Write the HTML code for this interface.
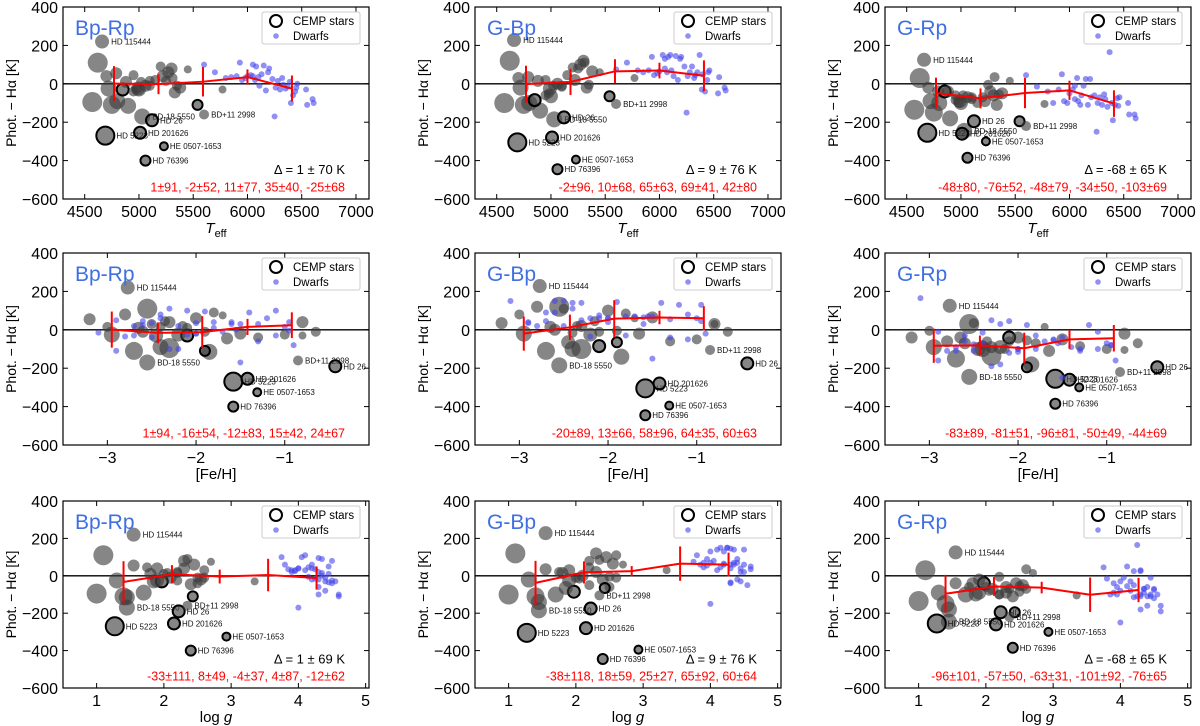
<!DOCTYPE html>
<html><head><meta charset="utf-8">
<style>
html,body{margin:0;padding:0;background:#fff;}
svg{display:block;font-family:"Liberation Sans",sans-serif;}
</style></head>
<body>
<svg id="fig" width="1200" height="726" viewBox="0 0 1200 726"></svg>
<script>
// ---- shared star data (same stars in every panel) ----
const teff = [4660,4620,4570,4720,4790,4750,4800,4900,4850,4880,4950,4990,5000,5030,5020,5060,5100,5150,5200,5220,5270,5300,5330,5350,5380,5310,5450,5250,5770,4950,4690,5010,5120,5230,5060,5540,5600,4980,4700,5100];
const logg = [1.55,1.1,1.0,1.3,1.55,1.4,1.7,1.45,1.97,1.8,1.75,1.9,1.85,1.45,2.0,2.1,2.05,2.2,2.35,2.3,2.45,2.3,2.4,2.5,2.55,2.6,2.7,2.2,3.35,2.5,1.27,2.15,2.22,2.93,2.4,2.43,2.35,2.2,1.9,2.6];
const feh  = [-2.77,-2.55,-2.3,-2.95,-3.2,-2.7,-2.4,-1.85,-2.1,-2.65,-2.35,-2.2,-2.45,-2.55,-2.1,-2.6,-2.4,-2.15,-1.8,-2.3,-2.0,-2.8,-1.65,-1.9,-1.5,-2.5,-1.7,-3.0,-0.8,-1.3,-1.58,-1.42,-0.43,-1.31,-1.58,-1.9,-0.85,-1.0,-0.8,-0.65];
const gsize = [7,10,10,8,6,9,8,8,6,6,5,7,7,8,5,6,5,5,5,6,6,6,6,5,6,5,4,5,4,5,9,6,6,4,5,5,5,5,6,5];
const dBpRp = [220,110,-95,-25,55,-110,-90,-115,-30,10,45,-25,-30,-170,10,-10,15,20,90,40,60,80,-45,-10,-20,30,75,15,-30,-40,-270,-255,-190,-325,-400,-110,-160,-25,40,-10];
const dGBp  = [228,120,-100,-20,35,-110,-100,-140,-85,15,20,-25,-65,-185,-10,0,-15,45,85,20,100,120,-20,-5,65,110,60,80,30,-60,-305,-280,-175,-395,-445,-65,-105,-50,30,-10];
const dGRp  = [125,30,-135,-90,-40,-150,-100,-180,-40,-40,-60,-90,-100,-245,-60,-70,-80,-100,-70,-90,-40,-60,-110,-55,-50,35,15,-5,-105,-85,-255,-260,-195,-300,-385,-195,-220,-100,-20,-70];
const cemp = [0,0,0,0,0,0,0,0,1,0,0,0,0,0,0,0,0,0,0,0,0,0,0,0,0,0,0,0,0,0,1,1,1,1,1,1,0,0,0,0];
const names = {0:"HD 115444",13:"BD-18 5550",30:"HD 5223",31:"HD 201626",32:"HD 26",33:"HE 0507-1653",34:"HD 76396",36:"BD+11 2998"};
// dwarfs
const dTeff = [5600,5700,5800,5850,5900,5930,5980,6000,6030,6050,6070,6080,6100,6110,6150,6170,6190,6200,6250,6260,6280,6300,6320,6350,6370,6390,6400,6420,6440,6450,6460,6540,6550,6600,6610,5950,6050,6130,6230,6330];
const dLogg = [3.75,3.8,3.9,3.85,4.0,4.1,3.95,4.2,4.15,4.05,4.3,4.35,4.25,4.4,4.3,4.45,4.2,4.5,4.0,4.3,4.35,4.4,4.1,4.5,4.25,4.45,4.6,4.3,4.5,4.2,4.35,4.55,4.6,4.4,4.3,3.9,4.0,4.45,3.95,4.15];
const dFeh  = [-2.1,-2.4,-1.5,-2.0,-1.8,-2.3,-1.3,-1.6,-2.6,-1.1,-2.2,-1.4,-2.5,-1.7,-1.9,-2.8,-1.2,-2.4,-1.5,-2.0,-1.0,-2.7,-1.6,-2.1,-3.1,-1.8,-2.3,-1.3,-2.5,-2.0,-1.55,-1.1,-2.9,-0.9,-2.2,-2.7,-0.95,-2.9,-2.6,-0.95];
const dwBpRp = [100,60,30,35,40,110,30,40,45,100,20,90,35,-10,95,-35,60,80,-170,-20,15,-30,30,-25,-15,10,-100,-60,-40,-20,0,-30,-110,-80,-100,20,40,50,25,-5];
const dwGBp  = [75,110,70,60,70,140,55,65,150,80,60,140,150,70,145,20,130,140,-150,40,60,90,30,60,150,-30,50,-40,20,60,70,-50,35,-20,-35,45,130,40,90,45];
const dwGRp  = [45,-15,-40,-100,-30,50,-100,-50,-30,-10,30,-90,-110,-60,25,-110,25,-70,-250,-100,-70,-110,-55,-120,165,-100,-190,-110,-75,-115,-70,-100,-160,-160,-180,-90,-80,-10,-60,-80];
// binned statistics (red)
const binTeff = [4770,5180,5590,6000,6410];
const binFeh = [-2.95,-2.43,-1.93,-1.42,-0.92];
const binLogg = [1.4,2.12,2.83,3.55,4.27];
const meanTeffBR=[1,-2,11,35,-25], sdTeffBR=[91,52,77,40,68];
const meanTeffGB=[-2,10,65,69,42], sdTeffGB=[96,68,63,41,80];
const meanTeffGR=[-48,-76,-48,-34,-103], sdTeffGR=[80,52,79,50,69];
const meanFehBR=[1,-16,-12,15,24], sdFehBR=[94,54,83,42,67];
const meanFehGB=[-20,13,58,64,60], sdFehGB=[89,66,96,35,63];
const meanFehGR=[-83,-81,-96,-50,-44], sdFehGR=[89,51,81,49,69];
const meanLoggBR=[-33,8,-4,4,-12], sdLoggBR=[111,49,37,87,62];
const meanLoggGB=[-38,18,25,65,60], sdLoggGB=[118,59,27,92,64];
const meanLoggGR=[-96,-57,-63,-101,-76], sdLoggGR=[101,50,31,92,65];
const deltaText = [["Δ = 1 ± 70 K","Δ = 9 ± 76 K","Δ = -68 ± 65 K"],null,["Δ = 1 ± 69 K","Δ = 9 ± 76 K","Δ = -68 ± 65 K"]];
const colorNames = ["Bp-Rp","G-Bp","G-Rp"];
const yTicks = [400,200,0,-200,-400,-600];
const teffTicks=[4500,5000,5500,6000,6500,7000], fehTicks=[-3,-2,-1], loggTicks=[1,2,3,4,5];

// ---- layout ----
const colL=[63,475,885], W=306;
const rowT=[7,253,501], rowH=[192,192,187];
const NS="http://www.w3.org/2000/svg";
const svg=document.getElementById('fig');
function mk(tag,attrs,parent){const e=document.createElementNS(NS,tag);for(const k in attrs)e.setAttribute(k,attrs[k]);(parent||svg).appendChild(e);return e;}
function txt(s,attrs,parent){const e=mk('text',attrs,parent);e.textContent=s;return e;}
const rows=[
 {gx:teff,dx:dTeff,dom:[4300,7120],ticks:teffTicks,bins:binTeff,means:[meanTeffBR,meanTeffGB,meanTeffGR],sds:[sdTeffBR,sdTeffGB,sdTeffGR],title:'teff'},
 {gx:feh,dx:dFeh,dom:[-3.5,-0.05],ticks:fehTicks,bins:binFeh,means:[meanFehBR,meanFehGB,meanFehGR],sds:[sdFehBR,sdFehGB,sdFehGR],title:'[Fe/H]'},
 {gx:logg,dx:dLogg,dom:[0.5,5.05],ticks:loggTicks,bins:binLogg,means:[meanLoggBR,meanLoggGB,meanLoggGR],sds:[sdLoggBR,sdLoggGB,sdLoggGR],title:'logg'}
];
const gY=[dBpRp,dGBp,dGRp], dY=[dwBpRp,dwGBp,dwGRp];
rows.forEach((row,ri)=>{
 for(let ci=0;ci<3;ci++){
  const L=colL[ci],T=rowT[ri],H=rowH[ri],R=L+W,B=T+H;
  const X=v=>L+(v-row.dom[0])/(row.dom[1]-row.dom[0])*W;
  const Y=v=>T+(400-v)/1000*H;
  const g=mk('g',{});
  
  
  const cp='cp'+ri+ci;
  const defs=mk('defs',{},g);const c=mk('clipPath',{id:cp},defs);mk('rect',{x:L,y:T,width:W,height:H},c);
  const pg=mk('g',{'clip-path':'url(#'+cp+')'},g);
  const z=mk('line',{x1:L,x2:R,y1:Y(0),y2:Y(0),stroke:'#000','stroke-width':1.3},pg);
  
  
  row.gx.forEach((xv,i)=>{
   const yv=gY[ci][i];
   const p=mk('circle',{cx:X(xv),cy:Y(yv),r:gsize[i],fill:'rgba(60,60,60,0.62)',stroke:cemp[i]?'#000':'none','stroke-width':cemp[i]?2:0},pg);
   
   
   if(names[i]!==undefined){
    const t=txt(names[i],{x:X(xv)+gsize[i]+2,y:Y(yv)+3,'font-size':8,fill:'#111'},pg);
    
    
   }
  });
  row.dx.forEach((xv,i)=>{
   const p=mk('circle',{cx:X(xv),cy:Y(dY[ci][i]),r:3,fill:'rgba(70,70,235,0.6)'},pg);
   
   
  });
  const mns=row.means[ci],sds=row.sds[ci];
  const pts=row.bins.map((b,k)=>X(b)+','+Y(mns[k])).join(' ');
  const pl=mk('polyline',{points:pts,fill:'none',stroke:'#f00','stroke-width':2},pg);
  
  
  row.bins.forEach((b,k)=>{
   const e=mk('line',{x1:X(b),x2:X(b),y1:Y(mns[k]-sds[k]),y2:Y(mns[k]+sds[k]),stroke:'#f00','stroke-width':2},pg);
   
   
  });
  const fr=mk('rect',{x:L,y:T,width:W,height:H,fill:'none',stroke:'#000','stroke-width':1.2},g);
  
  
  yTicks.forEach(v=>{
   mk('line',{x1:L,x2:L+5,y1:Y(v),y2:Y(v),stroke:'#000'},g);
   mk('line',{x1:R-5,x2:R,y1:Y(v),y2:Y(v),stroke:'#000'},g);
   const t=txt(v<0?'−'+(-v):String(v),{x:L-5,y:Y(v)+6,'font-size':16,'text-anchor':'end',fill:'#000'},g);
   
   
  });
  row.ticks.forEach(v=>{
   mk('line',{x1:X(v),x2:X(v),y1:B-5,y2:B,stroke:'#000'},g);
   mk('line',{x1:X(v),x2:X(v),y1:T,y2:T+5,stroke:'#000'},g);
   const t=txt(v<0?'−'+(-v):String(v),{x:X(v),y:B+18,'font-size':16,'text-anchor':'middle',fill:'#000'},g);
   
   
  });
  const yl=txt('Phot. − Hα [K]',{x:0,y:0,'font-size':14,'text-anchor':'middle',transform:'translate('+(L-47)+','+(T+H/2)+') rotate(-90)',fill:'#000'},g);
  
  
  const xl=mk('text',{x:L+W/2,y:B+34,'font-size':15,'text-anchor':'middle',fill:'#000'},g);
  
  
  if(row.title==='teff'){xl.innerHTML='<tspan font-style="italic">T</tspan><tspan font-size="11" dy="4">eff</tspan>';}
  else if(row.title==='logg'){xl.innerHTML='log <tspan font-style="italic">g</tspan>';}
  else xl.textContent=row.title;
  const cl=txt(colorNames[ci],{x:L+12,y:T+28,'font-size':21,fill:'#3f6fe0'},g);
  
  
  const lg=mk('g',{},g);
  
  
  mk('rect',{x:R-107,y:T+5,width:98,height:32,fill:'#fff','fill-opacity':0.85,stroke:'#ccc','stroke-width':1,rx:2},lg);
  mk('circle',{cx:R-93,cy:T+14,r:6,fill:'none',stroke:'#000','stroke-width':2},lg);
  mk('circle',{cx:R-93,cy:T+29,r:2.8,fill:'rgba(70,70,235,0.6)'},lg);
  txt('CEMP stars',{x:R-76,y:T+18,'font-size':11.5,fill:'#000'},lg);
  txt('Dwarfs',{x:R-76,y:T+33,'font-size':11.5,fill:'#000'},lg);
  if(deltaText[ri]){
   const d=txt(deltaText[ri][ci],{x:R-24,y:T+H*0.87,'font-size':13,'text-anchor':'end',fill:'#000'},g);
   
   
  }
  const st=mns.map((m,k)=>m+'±'+sds[k]).join(', ');
  const s=txt(st,{x:R-24,y:T+H*0.96,'font-size':12.5,'text-anchor':'end',fill:'#f00'},g);
  
  
 }
});
</script>
</body></html>
